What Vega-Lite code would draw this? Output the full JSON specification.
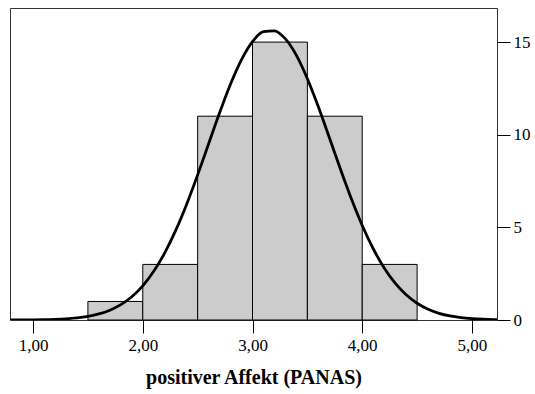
{
  "$schema": "https://vega.github.io/schema/vega-lite/v6.json",
  "width": 487,
  "height": 312,
  "autosize": {"type": "none"},
  "padding": {"left": 10, "top": 8, "right": 38, "bottom": 74},
  "background": "white",
  "config": {
    "view": {"stroke": "#333333", "strokeWidth": 1},
    "font": "Liberation Serif",
    "axis": {
      "grid": false,
      "domain": false,
      "tickColor": "black",
      "tickWidth": 1,
      "tickSize": 13,
      "labelFont": "Liberation Serif",
      "labelFontSize": 17,
      "labelColor": "black",
      "titleFont": "Liberation Serif",
      "titleColor": "black"
    }
  },
  "datasets": {
    "bins": [
      {"start": 1.5, "end": 2.0, "count": 1},
      {"start": 2.0, "end": 2.5, "count": 3},
      {"start": 2.5, "end": 3.0, "count": 11},
      {"start": 3.0, "end": 3.5, "count": 15},
      {"start": 3.5, "end": 4.0, "count": 11},
      {"start": 4.0, "end": 4.5, "count": 3}
    ],
    "normal": [
      {"x": 0.7, "y": 0.001},
      {"x": 0.8, "y": 0.002},
      {"x": 0.9, "y": 0.005},
      {"x": 1.0, "y": 0.009},
      {"x": 1.1, "y": 0.018},
      {"x": 1.2, "y": 0.035},
      {"x": 1.3, "y": 0.064},
      {"x": 1.4, "y": 0.114},
      {"x": 1.5, "y": 0.197},
      {"x": 1.6, "y": 0.328},
      {"x": 1.7, "y": 0.530},
      {"x": 1.8, "y": 0.829},
      {"x": 1.9, "y": 1.257},
      {"x": 2.0, "y": 1.846},
      {"x": 2.1, "y": 2.627},
      {"x": 2.2, "y": 3.620},
      {"x": 2.3, "y": 4.834},
      {"x": 2.4, "y": 6.252},
      {"x": 2.5, "y": 7.834},
      {"x": 2.6, "y": 9.509},
      {"x": 2.7, "y": 11.182},
      {"x": 2.8, "y": 12.738},
      {"x": 2.9, "y": 14.056},
      {"x": 3.0, "y": 15.026},
      {"x": 3.1, "y": 15.561},
      {"x": 3.2, "y": 15.610},
      {"x": 3.3, "y": 15.170},
      {"x": 3.4, "y": 14.282},
      {"x": 3.5, "y": 13.025},
      {"x": 3.6, "y": 11.507},
      {"x": 3.7, "y": 9.848},
      {"x": 3.8, "y": 8.165},
      {"x": 3.9, "y": 6.557},
      {"x": 4.0, "y": 5.102},
      {"x": 4.1, "y": 3.845},
      {"x": 4.2, "y": 2.808},
      {"x": 4.3, "y": 1.986},
      {"x": 4.4, "y": 1.361},
      {"x": 4.5, "y": 0.903},
      {"x": 4.6, "y": 0.581},
      {"x": 4.7, "y": 0.362},
      {"x": 4.8, "y": 0.218},
      {"x": 4.9, "y": 0.128},
      {"x": 5.0, "y": 0.072},
      {"x": 5.1, "y": 0.040},
      {"x": 5.2, "y": 0.021},
      {"x": 5.3, "y": 0.011}
    ]
  },
  "layer": [
    {
      "data": {"name": "bins"},
      "mark": {"type": "rect", "fill": "#cccccc", "stroke": "black", "strokeWidth": 1},
      "encoding": {
        "x": {
          "field": "start",
          "type": "quantitative",
          "scale": {"domain": [0.79, 5.228], "nice": false, "zero": false},
          "axis": {
            "values": [1, 2, 3, 4, 5],
            "labelExpr": "replace(format(datum.value, '.2f'), '.', ',')",
            "labelPadding": 4,
            "title": "positiver Affekt (PANAS)",
            "titleFontSize": 20,
            "titleFontWeight": "bold",
            "titlePadding": 14
          }
        },
        "x2": {"field": "end"},
        "y": {
          "field": "count",
          "type": "quantitative",
          "scale": {"domain": [0, 16.84], "nice": false},
          "axis": {
            "orient": "right",
            "values": [0, 5, 10, 15],
            "labelPadding": 3,
            "title": null
          }
        },
        "y2": {"datum": 0}
      }
    },
    {
      "data": {"name": "normal"},
      "mark": {"type": "line", "color": "black", "strokeWidth": 2.8, "interpolate": "monotone", "clip": true},
      "encoding": {
        "x": {"field": "x", "type": "quantitative"},
        "y": {"field": "y", "type": "quantitative"}
      }
    }
  ]
}
